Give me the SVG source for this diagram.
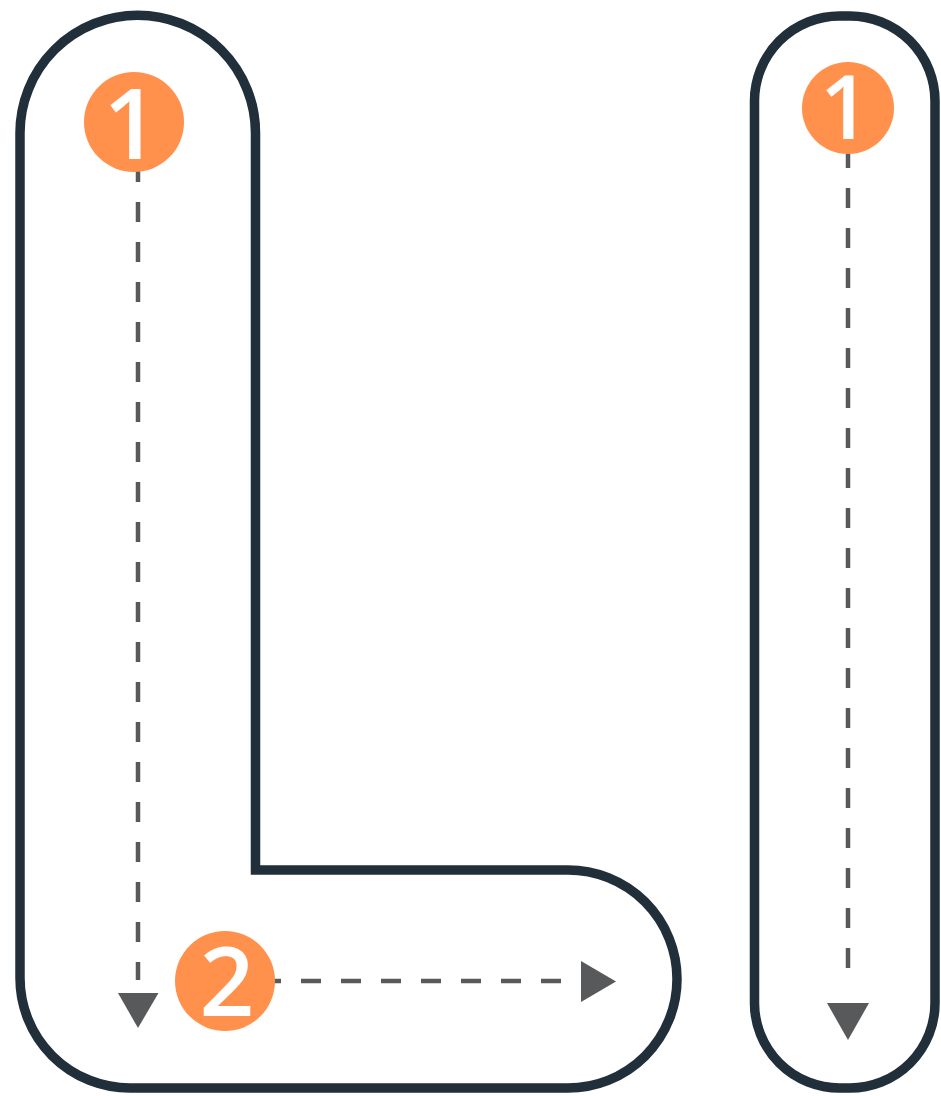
<svg xmlns="http://www.w3.org/2000/svg" width="941" height="1096" viewBox="0 0 941 1096">
<style>
.outline{fill:none;stroke:#212f3b;stroke-width:9.5;stroke-linejoin:miter}
.dash{fill:none;stroke:#58595b;stroke-width:4.5;stroke-dasharray:20 20}
.head{fill:#58595b}
.badge{fill:#ff914d}
.num{fill:#ffffff;font-family:"Open Sans","Liberation Sans",sans-serif;font-weight:600;text-anchor:middle}
</style>
<rect width="941" height="1096" fill="#ffffff"/>
<g id="l-shape">
<path class="outline" d="M20,133 A117.75,117.75 0 0 1 255.5,133 L255.5,870 L568,870 A109,109 0 0 1 568,1088 L130,1088 A110,110 0 0 1 20,978 Z"/>
</g>
<g id="bar-shape">
<rect class="outline" x="754.5" y="16" width="180.5" height="1072" rx="85" ry="85"/>
</g>
<g id="connectors">
<line class="dash" x1="138" y1="122" x2="138" y2="980"/>
<polygon class="head" points="118,993 158.5,993 138,1028"/>
<line class="dash" x1="221" y1="981" x2="584" y2="981"/>
<polygon class="head" points="581,961 616,981.5 581,1002"/>
<line class="dash" x1="848" y1="108" x2="848" y2="988"/>
<polygon class="head" points="827,1003 869,1003 848,1040"/>
</g>
<g id="step-1-left">
<circle class="badge" cx="134" cy="122" r="50"/>
<text class="num" x="131" y="159" font-size="98">1</text>
</g>
<g id="step-2-left">
<circle class="badge" cx="225" cy="981" r="50"/>
<text class="num" x="227" y="1016" font-size="96">2</text>
</g>
<g id="step-1-right">
<circle class="badge" cx="848" cy="108" r="46"/>
<text class="num" x="845" y="139" font-size="88">1</text>
</g>
</svg>
